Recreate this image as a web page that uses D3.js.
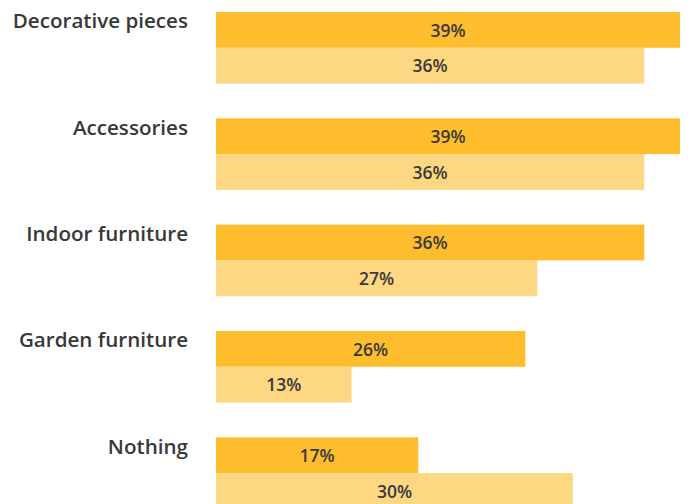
<!DOCTYPE html>
<html>
<head>
<meta charset="utf-8">
<script src="https://cdn.jsdelivr.net/npm/d3@7"></script>
<style>
  html, body { margin: 0; padding: 0; background: #ffffff; }
  svg { display: block; }
</style>
</head>
<body>
<svg id="chart" width="689" height="504"></svg>
<script>
// ---- data ----
const categories = ["Decorative pieces", "Accessories", "Indoor furniture", "Garden furniture", "Nothing"];
const seriesNames = ["current", "previous"];
const currentValues = [39, 39, 36, 26, 17];
const previousValues = [36, 36, 27, 11.4, 30];   // bar lengths as drawn
const currentLabels = ["39%", "39%", "36%", "26%", "17%"];
const previousLabels = ["36%", "36%", "27%", "13%", "30%"];

// ---- layout ----
const svg = d3.select("#chart");
const colors = { current: "#fdbd2d", previous: "#fdd782" };

const y = d3.scaleBand()
  .domain(categories)
  .range([12, 508.9])
  .paddingInner(0.3266)
  .paddingOuter(0);
const yInner = d3.scaleBand().domain(seriesNames).range([0, y.bandwidth()]).padding(0);

const x = d3.scaleLinear().domain([0, 39]).range([216, 680]);

const rows = categories.map((c, i) => ({
  cat: c,
  bars: [
    { key: "current", v: currentValues[i], label: currentLabels[i] },
    { key: "previous", v: previousValues[i], label: previousLabels[i] }
  ]
}));

const g = svg.selectAll("g.row").data(rows).join("g")
  .attr("class", "row")
  .attr("transform", d => `translate(0,${y(d.cat)})`);

g.selectAll("rect").data(d => d.bars).join("rect")
  .attr("x", x(0))
  .attr("y", d => yInner(d.key))
  .attr("width", d => x(d.v) - x(0))
  .attr("height", yInner.bandwidth())
  .attr("fill", d => colors[d.key]);

g.selectAll("text.val").data(d => d.bars).join("text")
  .attr("class", "val")
  .attr("x", d => (x(0) + x(d.v)) / 2)
  .attr("y", d => yInner(d.key) + yInner.bandwidth() / 2 + 6.8)
  .attr("text-anchor", "middle")
  .attr("font-family", "'Open Sans', Lato, sans-serif")
  .attr("font-size", 17.5)
  .attr("font-weight", 600)
  .attr("fill", "#3a3a3a")
  .text(d => d.label);

g.append("text")
  .attr("class", "cat")
  .attr("x", 188)
  .attr("y", 16.3)
  .attr("text-anchor", "end")
  .attr("font-family", "'Open Sans', Lato, sans-serif")
  .attr("font-size", 20.6)
  .attr("font-weight", 600)
  .attr("fill", "#383838")
  .text(d => d.cat);
</script>
</body>
</html>
